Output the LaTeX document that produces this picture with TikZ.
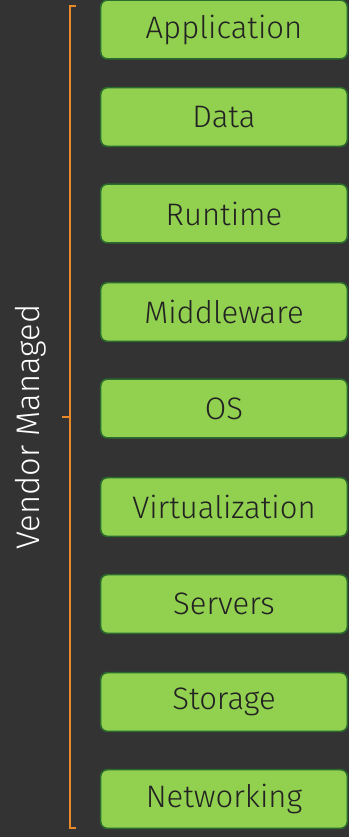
\documentclass[tikz,border=0pt]{standalone}
\usepackage{fontspec}
\setmainfont{Fira Sans}[UprightFont={* Light}]
\definecolor{bgdark}{HTML}{333333}
\definecolor{layergreen}{HTML}{92D050}
\definecolor{layeredge}{HTML}{2B6B2E}
\definecolor{layertext}{HTML}{222222}
\definecolor{braceorange}{HTML}{E8892A}
\tikzset{
	layer/.style={draw=layeredge, line width=1.2pt, fill=layergreen, rounded corners=5pt,
		minimum width=185pt, minimum height=44pt, inner sep=0pt,
		text=layertext, font=\fontsize{23.3}{27}\selectfont},
	vendor/.style={text=white, rotate=90, font=\fontsize{24.5}{28}\selectfont}
}
\begin{document}
\begin{tikzpicture}[x=0.75pt, y=-0.75pt]
		\fill[bgdark] (0,0) rectangle (349,837);
		\useasboundingbox (0,0) rectangle (349,837);
	
		\node[layer] (app) at (224,29.5) {Application};
		\node[layer] (data) at (224,117) {Data};
		\node[layer] (runtime) at (224,213.5) {Runtime};
		\node[layer] (middleware) at (224,312) {Middleware};
		\node[layer] (os) at (224,408.5) {OS};
		\node[layer] (virt) at (224,507) {Virtualization};
		\node[layer] (servers) at (224,604) {Servers};
		\node[layer] (storage) at (224,702) {Storage};
		\node[layer] (net) at (224,799) {Networking};
	
		\draw[braceorange, line width=1.5pt] (76,6) -- (69.5,6) -- (69.5,828) -- (76,828);
		\draw[braceorange, line width=1.5pt] (69.5,417) -- (62,417);
		\node[vendor] (vendor) at (31,427) {Vendor Managed};
	\end{tikzpicture}
\end{document}
